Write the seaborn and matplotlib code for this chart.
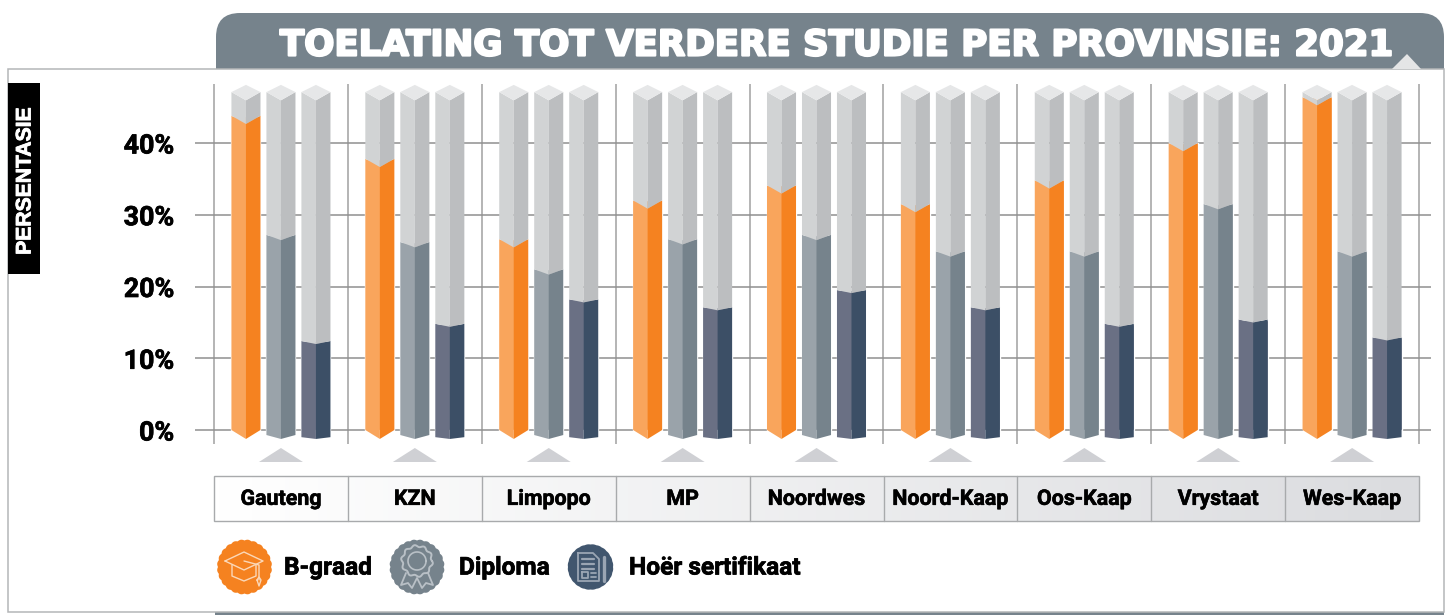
import numpy as np
import pandas as pd
import matplotlib
matplotlib.use("Agg")
import matplotlib.pyplot as plt
import matplotlib.patheffects as pe
from matplotlib.patches import Polygon, FancyBboxPatch, Rectangle
from matplotlib.colors import to_rgb
import seaborn as sns

provinsies = ["Gauteng", "KZN", "Limpopo", "MP", "Noordwes", "Noord-Kaap", "Oos-Kaap", "Vrystaat", "Wes-Kaap"]
b_graad = [43.8, 37.8, 26.6, 32.0, 34.1, 31.5, 34.8, 40.0, 46.4]
diploma = [27.2, 26.2, 22.4, 26.6, 27.2, 24.9, 24.9, 31.5, 24.9]
sertifikaat = [12.4, 14.8, 18.2, 17.1, 19.5, 17.1, 14.8, 15.4, 12.9]
tipes = ["B-graad", "Diploma", "Hoër sertifikaat"]
y_ticks = [0, 10, 20, 30, 40]
volle_kolom = 47.1
titel = "TOELATING TOT VERDERE STUDIE PER PROVINSIE: 2021"

kleur_links = ["#f9a55c", "#9aa3aa", "#6a7084"]
kleur_regs = ["#f58220", "#76838c", "#3c4f66"]
grys_links, grys_regs, grys_dop = "#d1d3d4", "#bcbec0", "#e6e7e8"
leiklip = "#76838c"

sns.set_theme(style="white")
plt.rcParams["font.family"] = ["Roboto", "DejaVu Sans"]


def vet(c, lw):
    return [pe.withStroke(linewidth=lw, foreground=c)]


W, H = 1456, 615
fig = plt.figure(figsize=(W / 100, H / 100), dpi=100, facecolor="white")

# agtergrond in pixels
bg = fig.add_axes([0, 0, 1, 1], zorder=0)
bg.set_axis_off()

bg.add_patch(FancyBboxPatch((216 + 24, 13 + 24), 1228 - 48, 80, boxstyle="round,pad=24,rounding_size=24",
                            fc=leiklip, ec="none"))
bg.add_patch(Rectangle((215, 606), 1229, 9, fc=leiklip, ec="none"))
bg.add_patch(Rectangle((8, 69), 1436, 543, fc="white", ec="#b4b6b8", lw=1.1))
bg.add_patch(Polygon([(1392, 69), (1407, 54), (1421, 69)], fc="#e4e5e6", ec="none"))
bg.text(835.5, 45.5, titel, color="white", fontsize=25.6, fontweight="bold", family="DejaVu Sans",
        ha="center", va="center", path_effects=vet("white", 1.6))

# swart etiket
bg.add_patch(Rectangle((8, 83), 32, 191, fc="black", ec="none"))
bg.text(25, 181, "PERSENTASIE", color="white", fontsize=15.2, fontweight="bold", family="Liberation Sans",
        rotation=90, ha="center", va="center", path_effects=vet("white", 0.6))

# tabel met gradient
grad = np.linspace(0, 1, 256).reshape(1, -1, 1)
wit = np.array(to_rgb("#ffffff"))
grys = np.array(to_rgb("#dbdcdf"))
bg.imshow(wit + (grys - wit) * grad, extent=(214, 1419, 521, 476), aspect="auto", zorder=1)
bg.add_patch(Rectangle((214, 476), 1205, 45, fc="none", ec="#a8aaac", lw=1.0, zorder=2))
for i in range(1, 9):
    bg.plot([214 + i * 133.9] * 2, [476, 521], color="#a8aaac", lw=1.0, zorder=2)
for i in range(9):
    cx = 214 + (i + 0.5) * 133.9
    bg.add_patch(Polygon([(cx - 22, 462), (cx, 448), (cx + 22, 462)], fc="#cfd0d4", ec="none"))


def badge(cx, cy, kleur, straal=27.5, golf=1.0):
    t = np.linspace(0, 2 * np.pi, 360)
    r = straal - golf + golf * np.abs(np.sin(t * 12))
    bg.add_patch(Polygon(np.c_[cx + r * np.cos(t), cy + r * np.sin(t)], fc=kleur, ec="none", zorder=3))


def lyn(xs, ys, c, lw=1.0):
    bg.plot(xs, ys, color=c, lw=lw, zorder=4, solid_capstyle="round")


badge(244.5, 567, kleur_regs[0])
badge(417, 567, kleur_regs[1])
badge(590.5, 567, "#41566e", 22.8, 0.3)

# hoed
c = "#fbd8b8"
lyn([225, 244, 263, 244, 225], [561, 552, 561, 570, 561], c)
lyn([232, 232, 244, 256, 256], [565, 576, 581, 576, 565], c)
lyn([244, 259, 259], [561, 565, 580], c)
lyn([257, 259, 261, 259, 257], [580, 577, 580, 586, 580], c)
# rosette
c = "#b9c0c6"
t = np.linspace(0, 2 * np.pi, 120)
r = 15 + 1 * np.sin(t * 10)
lyn(417 + r * np.cos(t), 561 + r * np.sin(t), c, 1.4)
lyn(417 + 9 * np.cos(t), 561 + 9 * np.sin(t), c, 1.2)
lyn([406, 401, 408, 412, 417, 422, 426, 433, 428], [573, 585, 583, 588, 578, 588, 583, 585, 573], c, 1.3)
# dokument
c = "#9aa5b3"
lyn([578, 593, 599, 599, 578, 578], [553, 553, 559, 581, 581, 553], c, 1.3)
for yy in [559, 564, 569]:
    lyn([582, 594], [yy, yy], c, 1.6)
lyn([582, 588, 588, 582, 582], [572, 572, 578, 578, 572], c, 1.3)
lyn([591, 596], [573, 573], c, 1.3)
lyn([591, 596], [577, 577], c, 1.3)
lyn([604, 604], [557, 581], c, 2.4)

for x, s in zip([284, 459, 629], tipes):
    bg.text(x, 568, s, color="black", fontsize=17.6, fontweight="bold", ha="left", va="center",
            path_effects=vet("black", 0.5))

bg.set_xlim(0, W)
bg.set_ylim(H, 0)

# die grafiek self
px_per_pct = 7.175
y_nul = 430
ax = fig.add_axes([195 / W, 1 - 444 / H, (1431 - 195) / W, (444 - 84) / H], zorder=1)
ax.patch.set_alpha(0)

df = pd.DataFrame({
    "provinsie": provinsies * 3,
    "tipe": [tipes[0]] * 9 + [tipes[1]] * 9 + [tipes[2]] * 9,
    "waarde": b_graad + diploma + sertifikaat,
})
sns.barplot(data=df, x="provinsie", y="waarde", hue="tipe", palette=kleur_links, saturation=1,
            width=0.784, gap=0.17, legend=False, zorder=3, ax=ax)

ax.set_xlim(-0.5 - 19 / 133.9, 8.5 + 12 / 133.9)
ax.set_ylim((y_nul - 444) / px_per_pct, (y_nul - 84) / px_per_pct)

duik_bo = [1.15, 0.74, 0.42]
voet = [0.0, -0.7, -1.0]
for h, bars in enumerate(ax.containers):
    d = duik_bo[h]
    for p in bars:
        x0, w, v = p.get_x(), p.get_width(), p.get_height()
        x1, mid = x0 + w, x0 + w / 2
        ax.add_patch(Polygon([(x0, voet[h]), (mid, -1.25), (mid, v - d), (x0, v)], fc=kleur_links[h], ec="none", zorder=3))
        ax.add_patch(Polygon([(mid, -1.25), (x1, voet[h]), (x1, v), (mid, v - d)], fc=kleur_regs[h], ec="none", zorder=3))
        # grys bokant die waarde
        top = volle_kolom
        ax.add_patch(Polygon([(x0, v), (mid, v - d), (mid, top - 1.15), (x0, top)], fc=grys_links, ec="none", zorder=4))
        ax.add_patch(Polygon([(mid, v - d), (x1, v), (x1, top), (mid, top - 1.15)], fc=grys_regs, ec="none", zorder=4))
        ax.add_patch(Polygon([(x0, top), (mid, top + 1.0), (x1, top), (mid, top - 1.15)], fc=grys_dop, ec="none", zorder=4))

ax.set_yticks(y_ticks, [f"{t}%" for t in y_ticks])
ax.set_xticks(range(9), provinsies)
ax.set_xticks(np.arange(-0.5, 9, 1), minor=True)
ax.grid(True, axis="y", color="#8f8f8f", lw=1.1, zorder=1)
ax.grid(True, axis="x", which="minor", color="#a0a0a0", lw=1.1, zorder=1)
ax.grid(False, axis="x", which="major")
ax.set_axisbelow(True)
ax.tick_params(axis="y", length=0, pad=15, labelsize=19.3, labelcolor="black")
ax.tick_params(axis="x", which="both", length=0)
ax.tick_params(axis="x", which="major", pad=33, labelsize=15.4, labelcolor="black")
for lab in ax.get_yticklabels():
    lab.set_fontweight("bold")
    lab.set_path_effects(vet("black", 0.5))
for lab in ax.get_xticklabels():
    lab.set_fontweight("bold")
    lab.set_path_effects(vet("black", 0.4))
ax.set_xlabel("")
ax.set_ylabel("")
sns.despine(ax=ax, left=True, bottom=True)

fig.savefig("out.png", dpi=100)
